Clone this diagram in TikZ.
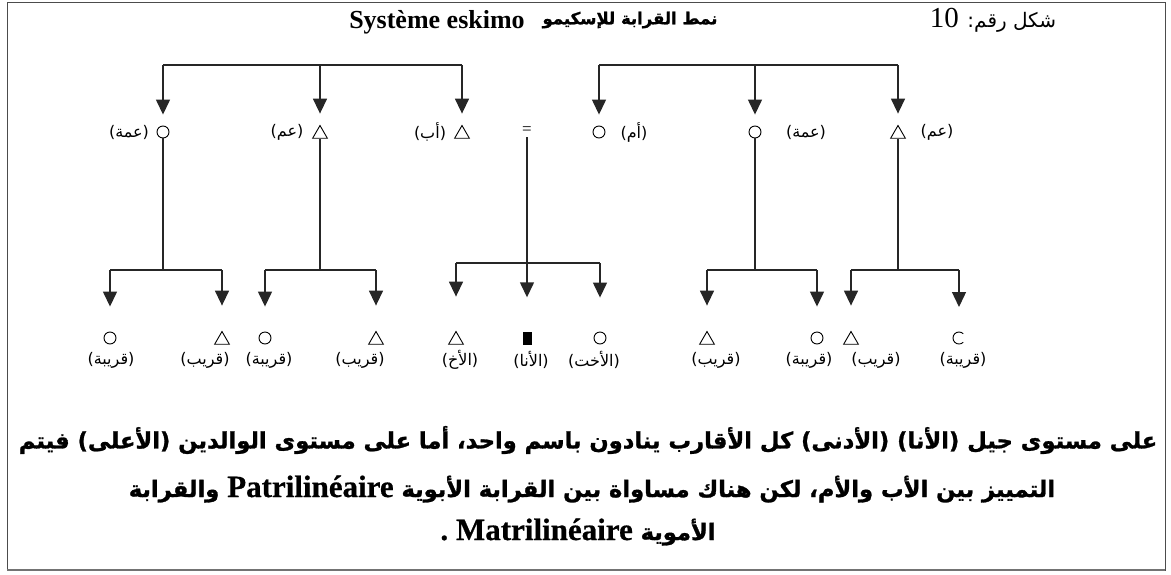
\documentclass[tikz,border=0pt]{standalone}
\usepackage{fontspec}
\setmainfont{Liberation Serif}
\newfontfamily\arabicfont[Script=Arabic]{DejaVu Sans}
\newfontfamily\arabicheavy[Script=Arabic,FakeBold=1.2]{DejaVu Sans Bold}
\newfontfamily\latinheavy[FakeBold=0.6]{Liberation Serif Bold}
\TeXXeTstate=1
\usetikzlibrary{arrows.meta,shapes.geometric}
\tikzset{
  line/.style={line width=1.4pt,black!85},
  conn/.style={line width=1.4pt,black!85,-{Triangle[length=15pt,width=14pt]},shorten >=11pt},
  female/.style={circle,draw,line width=0.9pt,minimum size=12pt,inner sep=0pt},
  male/.style={regular polygon,regular polygon sides=3,draw,line width=0.9pt,minimum size=17pt,inner sep=0pt},
  ego/.style={rectangle,fill=black,minimum width=9pt,minimum height=13pt,inner sep=0pt},
  lab/.style={font=\arabicfont\fontsize{16}{18}\selectfont,inner sep=0pt},
  para/.style={font=\arabicheavy\fontsize{22.6}{26}\selectfont,inner sep=0pt},
}
\newcommand{\latpart}[1]{{\latinheavy\fontsize{31}{33}\selectfont #1}}
\begin{document}
\begin{tikzpicture}[x=1pt,y=-1pt]
\useasboundingbox (0,0) rectangle (1171,574);
\draw[line width=1pt,black!70] (7,2) rectangle (1165,570);
\draw[line width=2pt,black!55] (7,570) -- (1165,570);
% titles
\node[font=\bfseries\fontsize{26}{30}\selectfont,inner sep=0pt] (tlat) at (437,22) {Système eskimo};
\node[font=\arabicheavy\fontsize{16.5}{20}\selectfont,inner sep=0pt] (tar) at (630,20) {\beginR نمط القرابة للإسكيمو\endR};
\node[font=\arabicfont\fontsize{20}{22}\selectfont,inner sep=0pt] (tnum) at (993,20) {\beginR شكل رقم: \beginL{\rmfamily\fontsize{29}{32}\selectfont 10}\endL\endR};
% upper generation
\node[female] (uO1) at (163,132) {};
\node[lab] (uO1l) at (129,132) {\beginR(عمة)\endR};
\node[male] (uT1) at (320,134) {};
\node[lab] (uT1l) at (287,132) {\beginR(عم)\endR};
\node[male] (uT2) at (462,134) {};
\node[lab] (uT2l) at (430,132) {\beginR(أب)\endR};
\node[font=\rmfamily\fontsize{17}{18}\selectfont,inner sep=2pt] (eq) at (527,131) {=};
\node[female] (uO2) at (599,132) {};
\node[lab] (uO2l) at (634,132) {\beginR(أم)\endR};
\node[female] (uO3) at (755,132) {};
\node[lab] (uO3l) at (806,132) {\beginR(عمة)\endR};
\node[male] (uT3) at (898,134) {};
\node[lab] (uT3l) at (937,132) {\beginR(عم)\endR};
% top bars
\coordinate (barL) at (320,65);
\coordinate (barR) at (755,65);
\draw[line] (uO1 |- barL) -- (uT2 |- barL);
\draw[line] (uO2 |- barR) -- (uT3 |- barR);
\foreach \n in {uO1,uT1,uT2}{\draw[conn] (\n |- barL) -- (\n);}
\foreach \n in {uO2,uO3,uT3}{\draw[conn] (\n |- barR) -- (\n);}
% lower generation
\node[female] (l1) at (110,338) {};
\node[male] (l2) at (222,340) {};
\node[female] (l3) at (265,338) {};
\node[male] (l4) at (376,340) {};
\node[male] (l5) at (456,340) {};
\node[ego] (l6) at (527,338) {};
\node[female] (l7) at (600,338) {};
\node[male] (l8) at (707,340) {};
\node[female] (l9) at (817,338) {};
\node[male] (l10) at (851,340) {};
\coordinate (l11) at (959,338);
\draw[line width=0.9pt] ([shift={(45:6pt)}]l11) arc[start angle=45,end angle=315,radius=6pt];
\foreach \x/\t in {111/(قريبة),205/(قريب),269/(قريبة),360/(قريب),460/(الأخ),531/(الأنا),594/(الأخت),716/(قريب),809/(قريبة),876/(قريب),963/(قريبة)}{
  \node[lab] at (\x,360) {\beginR\t\endR};}
% lower bars
\coordinate (b1) at (163,270);
\coordinate (b2) at (320,270);
\coordinate (b3) at (527,263);
\coordinate (b4) at (755,270);
\coordinate (b5) at (898,270);
\draw[line] (uO1) -- (b1);
\draw[line] (uT1) -- (b2);
\draw[line] (eq.south) -- (b3);
\draw[line] (uO3) -- (b4);
\draw[line] (uT3) -- (b5);
\draw[line] (l1 |- b1) -- (l2 |- b1);
\draw[line] (l3 |- b2) -- (l4 |- b2);
\draw[line] (l5 |- b3) -- (l7 |- b3);
\draw[line] (l8 |- b4) -- (l9 |- b4);
\draw[line] (l10 |- b5) -- (l11 |- b5);
\foreach \n in {l1,l2}{\draw[conn,shorten >=25pt] (\n |- b1) -- (\n);}
\foreach \n in {l3,l4}{\draw[conn,shorten >=25pt] (\n |- b2) -- (\n);}
\foreach \n in {l5,l6,l7}{\draw[conn,shorten >=34pt] (\n |- b3) -- (\n);}
\foreach \n in {l8,l9}{\draw[conn,shorten >=25pt] (\n |- b4) -- (\n);}
\foreach \n in {l10}{\draw[conn,shorten >=25pt] (\n |- b5) -- (\n);}
\draw[conn,shorten >=31pt] (l11 |- b5) -- (l11);
% paragraph
\node[para] (p1) at (588,440) {\beginR على مستوى جيل (الأنا) (الأدنى) كل الأقارب ينادون باسم واحد، أما على مستوى الوالدين (الأعلى) فيتم\endR};
\node[para] (p2) at (592,489) {\beginR التمييز بين الأب والأم، لكن هناك مساواة بين القرابة الأبوية \beginL\latpart{Patrilinéaire}\endL{} والقرابة\endR};
\node[para] (p3) at (578,532) {\beginR الأموية \beginL\latpart{Matrilinéaire}\endL{} \latpart{.}\endR};
\end{tikzpicture}
\end{document}
